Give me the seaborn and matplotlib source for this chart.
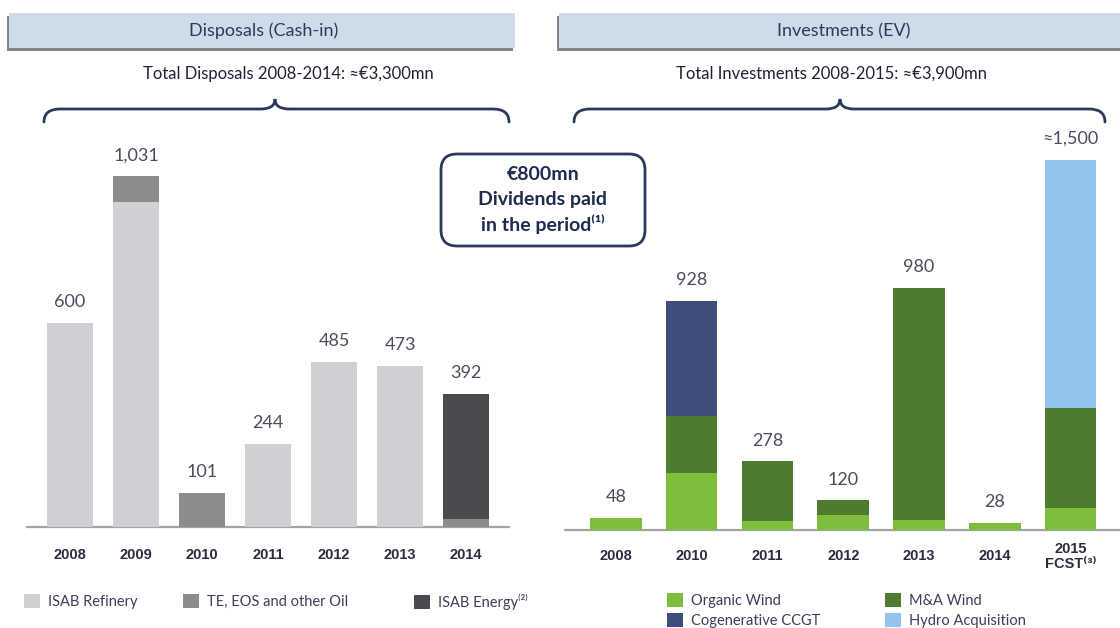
import numpy as np
import pandas as pd
import matplotlib
matplotlib.use("Agg")
import matplotlib.pyplot as plt
import seaborn as sns
from matplotlib.patches import Rectangle, FancyBboxPatch, Patch, PathPatch
from matplotlib.path import Path
import matplotlib.patheffects as pe

# ---------------- data ----------------
disp_years = ["2008", "2009", "2010", "2011", "2012", "2013", "2014"]
isab_refinery = [600, 955, 0, 244, 485, 473, 0]
te_eos_other_oil = [0, 76, 101, 0, 0, 0, 25]
isab_energy = [0, 0, 0, 0, 0, 0, 367]
disp_value_labels = ["600", "1,031", "101", "244", "485", "473", "392"]

inv_years = ["2008", "2010", "2011", "2012", "2013", "2014", "2015 FCST"]
inv_tick_labels = ["2008", "2010", "2011", "2012", "2013", "2014", "2015\nFCST\u207d\u00b3\u207e"]
organic_wind = [48, 231, 36, 60, 40, 28, 90]
ma_wind = [0, 230, 242, 60, 940, 0, 405]
cogenerative_ccgt = [0, 467, 0, 0, 0, 0, 0]
hydro_acquisition = [0, 0, 0, 0, 0, 0, 1005]
inv_value_labels = ["48", "928", "278", "120", "980", "28", "\u22481,500"]

disp_series = ["ISAB Refinery", "TE, EOS and other Oil", "ISAB Energy\u207d\u00b2\u207e"]
inv_series = ["Organic Wind", "M&A Wind", "Cogenerative CCGT", "Hydro Acquisition"]

# ---------------- style ----------------
sns.set_style("white")
plt.rcParams["font.family"] = ["Lato", "DejaVu Sans"]

C_REF = "#cfd0d4"
C_TE = "#8c8c8e"
C_EN = "#4b4b4f"
C_ORG = "#7dbf3c"
C_MA = "#4e7b2f"
C_CCGT = "#3f4d7b"
C_HYD = "#95c4ea"
NAVY = "#2b3a5c"
TXT = "#4a4d5e"

W, H = 1120, 628
fig = plt.figure(figsize=(W / 100, H / 100), dpi=100)
T = fig.dpi_scale_trans


def P(x, y):
    return (x / 100.0, (H - y) / 100.0)


def rect(x0, y0, x1, y1):
    return [x0 / W, 1 - y1 / H, (x1 - x0) / W, (y1 - y0) / H]


def stacked(ax, cats, layers, colors, width):
    cum = np.zeros(len(cats))
    cums = []
    for vals in layers:
        cum = cum + np.asarray(vals, dtype=float)
        cums.append(cum.copy())
    for c, col in reversed(list(zip(cums, colors))):
        sns.barplot(x=cats, y=c, order=cats, color=col, width=width,
                    saturation=1, ax=ax, linewidth=0)
    return cums[-1]


def finish(ax, ticklabels, pad):
    sns.despine(ax=ax, left=True, bottom=True)
    ax.set_yticks([])
    ax.set_xlabel("")
    ax.set_ylabel("")
    ax.set_xticks(range(len(ticklabels)))
    ax.set_xticklabels(ticklabels, fontfamily=["Liberation Sans", "DejaVu Sans"],
                       fontweight="bold", fontsize=10.5, color="#2a2d40")
    for t in ax.get_xticklabels():
        t.set_va("center")
        t.set_linespacing(1.05)
    ax.tick_params(axis="x", length=0, pad=pad)
    ax.axhline(0, color="#a3a3a3", lw=1.6, clip_on=False, zorder=0)
    ax.patch.set_alpha(0)


# ---------------- left: disposals ----------------
axL = fig.add_axes(rect(27, 140, 509, 527))
totL = stacked(axL, disp_years, [isab_refinery, te_eos_other_oil, isab_energy],
               [C_REF, C_TE, C_EN], 0.70)
axL.set_xlim(-0.65, 6.65)
axL.set_ylim(0, 387 / 0.34)
finish(axL, disp_years, 20)
for i, (v, lab) in enumerate(zip(totL, disp_value_labels)):
    axL.annotate(lab, xy=(i, v), xytext=(0, 15), textcoords="offset points",
                 ha="center", va="center", fontsize=13, color=TXT)

# ---------------- right: investments ----------------
axR = fig.add_axes(rect(565, 140, 1120, 530))
totR = stacked(axR, inv_years, [organic_wind, ma_wind, cogenerative_ccgt, hydro_acquisition],
               [C_ORG, C_MA, C_CCGT, C_HYD], 0.68)
axR.set_xlim(-0.67, 6.65)
axR.set_ylim(0, 390 / 0.247)
finish(axR, inv_tick_labels, 19)
for i, (v, lab) in enumerate(zip(totR, inv_value_labels)):
    axR.annotate(lab, xy=(i, v), xytext=(0, 15), textcoords="offset points",
                 ha="center", va="center", fontsize=13, color=TXT)

# ---------------- header boxes ----------------
shadow = [pe.SimplePatchShadow(offset=(-1.5, -1.8), shadow_rgbFace="#6f6f6f", alpha=0.85), pe.Normal()]
for (x0, x1) in [(9, 515), (559, 1130)]:
    r = Rectangle(P(x0, 48), (x1 - x0) / 100, 35 / 100, transform=T,
                  facecolor="#cedcea", edgecolor="none", zorder=1)
    r.set_path_effects(shadow)
    fig.patches.append(r)

fig.text(*P(264, 31), "Disposals (Cash-in)", transform=T, ha="center", va="center",
         fontsize=13, color=NAVY)
fig.text(*P(844, 31), "Investments (EV)", transform=T, ha="center", va="center",
         fontsize=13, color=NAVY)
fig.text(*P(288, 74), "Total Disposals 2008-2014: \u2248\u20ac3,300mn", transform=T,
         ha="center", va="center", fontsize=12, color="#1e2235")
fig.text(*P(831, 74), "Total Investments 2008-2015: \u2248\u20ac3,900mn", transform=T,
         ha="center", va="center", fontsize=12, color="#1e2235")


# ---------------- braces ----------------
def brace(x0, xm, x1, yline=109, ytop=99, yend=122):
    pts = [(x0, yend), (x0, yline), (x0 + 16, yline), (xm - 14, yline),
           (xm, yline), (xm, ytop), (xm, yline), (xm + 14, yline),
           (x1 - 16, yline), (x1, yline), (x1, yend)]
    codes = [Path.MOVETO, Path.CURVE3, Path.CURVE3, Path.LINETO,
             Path.CURVE3, Path.CURVE3, Path.CURVE3, Path.CURVE3,
             Path.LINETO, Path.CURVE3, Path.CURVE3]
    verts = [P(x, y) for x, y in pts]
    fig.patches.append(PathPatch(Path(verts, codes), transform=T, fill=False,
                                 edgecolor=NAVY, lw=2.0, capstyle="round"))


brace(44, 275, 509)
brace(574, 840, 1105)

# ---------------- dividends box ----------------
box = FancyBboxPatch(P(441, 246), 2.04, 0.92, boxstyle="round,pad=0,rounding_size=0.16",
                     transform=T, facecolor="white", edgecolor=NAVY, lw=2.0)
fig.patches.append(box)
for y, s in [(175, "\u20ac800mn"), (199, "Dividends paid"), (224, "in the period\u207d\u00b9\u207e")]:
    fig.text(*P(543, y), s, transform=T, ha="center", va="center", fontsize=14,
             fontweight="bold", color="#1f2a4f")


# ---------------- legends ----------------
def legend_col(x, y, labels, colors, spacing=0.3):
    handles = [Patch(facecolor=c, edgecolor="none") for c in colors]
    fig.legend(handles, labels, loc="upper left", bbox_to_anchor=(x / W, 1 - y / H),
               frameon=False, borderpad=0, borderaxespad=0, handlelength=1.1,
               handleheight=1.1, handletextpad=0.55, labelspacing=spacing,
               fontsize=10.5, labelcolor="#3b3f58")


legend_col(24, 594, [disp_series[0]], [C_REF])
legend_col(183, 594, [disp_series[1]], [C_TE])
legend_col(414, 594, [disp_series[2]], [C_EN])
legend_col(667, 593, [inv_series[0], inv_series[2]], [C_ORG, C_CCGT], 0.32)
legend_col(885, 593, [inv_series[1], inv_series[3]], [C_MA, C_HYD], 0.32)

fig.savefig("out.png", dpi=100)
